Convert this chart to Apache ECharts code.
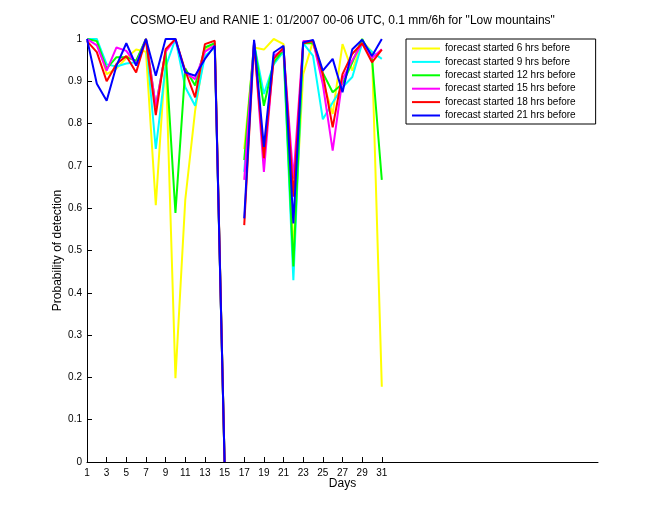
<!DOCTYPE html>
<html><head><meta charset="utf-8">
<script src="https://cdn.jsdelivr.net/npm/echarts@6/dist/echarts.min.js"></script>
<style>html,body{margin:0;padding:0;background:#fff}#c{width:660px;height:520px}</style>
</head><body><div id="c"></div>
<script>
const days = [1,2,3,4,5,6,7,8,9,10,11,12,13,14,15,16,17,18,19,20,21,22,23,24,25,26,27,28,29,30,31];
const xTicks = [1,3,5,7,9,11,13,15,17,19,21,23,25,27,29,31];
const seriesNames = ["forecast started 6 hrs before","forecast started 9 hrs before","forecast started 12 hrs before","forecast started 15 hrs before","forecast started 18 hrs before","forecast started 21 hrs before"];
const h6  = [1.0,1.0,0.917,0.93,0.955,0.975,0.97,0.607,0.96,0.198,0.62,0.83,0.975,0.985,0,null,0.74,0.98,0.975,1.0,0.988,0.5,0.917,0.995,0.9,0.823,0.988,0.925,0.995,0.97,0.178];
const h9  = [1.0,1.0,0.94,0.935,0.942,0.945,1.0,0.74,0.934,1.0,0.886,0.842,0.96,0.98,0,null,0.686,0.99,0.87,0.94,0.97,0.43,0.99,0.96,0.81,0.85,0.886,0.91,0.99,0.97,0.953];
const h12 = [1.0,0.995,0.93,0.957,0.957,0.949,1.0,0.84,0.97,0.589,0.93,0.89,0.98,0.99,0,null,0.714,0.99,0.842,0.945,0.975,0.462,0.99,0.99,0.92,0.874,0.894,0.945,1.0,0.955,0.667];
const h15 = [1.0,0.985,0.925,0.98,0.972,0.94,1.0,0.84,0.97,1.0,0.92,0.905,0.97,0.985,0,null,0.667,0.995,0.686,0.96,0.975,0.67,0.995,0.995,0.893,0.736,0.905,0.95,0.99,0.955,0.976];
const h18 = [0.995,0.969,0.90,0.941,0.96,0.921,1.0,0.82,0.976,1.0,0.925,0.862,0.988,0.996,0,null,0.56,0.99,0.718,0.953,0.98,0.627,0.99,0.995,0.917,0.791,0.917,0.965,0.99,0.945,0.975];
const h21 = [1.0,0.894,0.854,0.937,0.99,0.937,1.0,0.913,1.0,1.0,0.921,0.913,0.953,0.984,0,null,0.576,0.998,0.745,0.968,0.984,0.564,0.992,0.998,0.925,0.953,0.874,0.976,0.998,0.96,1.0];
const colors = ["#ffff00","#00ffff","#00ff00","#ff00ff","#ff0000","#0000ff"];
const allVals = [h6,h9,h12,h15,h18,h21];

const FONT = "Liberation Sans, Arial, Helvetica, sans-serif";
const chart = echarts.init(document.getElementById('c'), null, {renderer:'canvas'});
const series = allVals.map((vals, k) => ({
  name: seriesNames[k],
  type: 'line',
  symbol: 'none',
  connectNulls: false,
  animation: false,
  lineStyle: {width: 2, color: colors[k]},
  itemStyle: {color: colors[k]},
  data: days.map((d, i) => [d, vals[i] === null ? '-' : vals[i]])
}));
chart.setOption({
  animation: false,
  backgroundColor: '#fff',
  textStyle: {fontFamily: FONT},
  grid: {left: 87, right: 62, top: 39, bottom: 58, containLabel: false},
  graphic: [{
    type: 'text', x: 342.5, y: 15,
    style: {text: 'COSMO-EU and RANIE 1: 01/2007 00-06 UTC, 0.1 mm/6h for "Low mountains"', fontSize: 12, fontFamily: FONT, fill: '#000', textAlign: 'center', textVerticalAlign: 'top'}
  }],
  legend: {
    orient: 'vertical', left: 406, top: 39,
    padding: [4, 20, 3, 6], itemGap: 2.4, itemWidth: 28, itemHeight: 2,
    icon: 'rect',
    borderColor: '#000', borderWidth: 1, backgroundColor: '#fff',
    textStyle: {fontSize: 10, lineHeight: 11, fontFamily: FONT, color: '#000'},
    data: seriesNames
  },
  xAxis: {
    type: 'value', min: 1, max: 53,
    name: 'Days', nameLocation: 'middle', nameGap: 16, nameMoveOverlap: false,
    nameTextStyle: {fontSize: 12, color: '#000', fontFamily: FONT},
    axisLine: {lineStyle: {color: '#000', width: 1}},
    axisTick: {inside: true, length: 5, lineStyle: {color: '#000'}, customValues: xTicks},
    axisLabel: {fontSize: 10, color: '#000', margin: 6, customValues: xTicks, fontFamily: FONT},
    splitLine: {show: false}
  },
  yAxis: {
    type: 'value', min: 0, max: 1, interval: 0.1,
    name: 'Probability of detection', nameLocation: 'middle', nameGap: 23, nameMoveOverlap: false,
    nameTextStyle: {fontSize: 12, color: '#000', fontFamily: FONT},
    axisLine: {show: true, lineStyle: {color: '#000', width: 1}},
    axisTick: {show: true, inside: true, length: 5, lineStyle: {color: '#000'}},
    axisLabel: {fontSize: 10, color: '#000', margin: 5, fontFamily: FONT, formatter: v => String(Math.round(v*10)/10)},
    splitLine: {show: false}
  },
  series: series
});
</script>
</body></html>
